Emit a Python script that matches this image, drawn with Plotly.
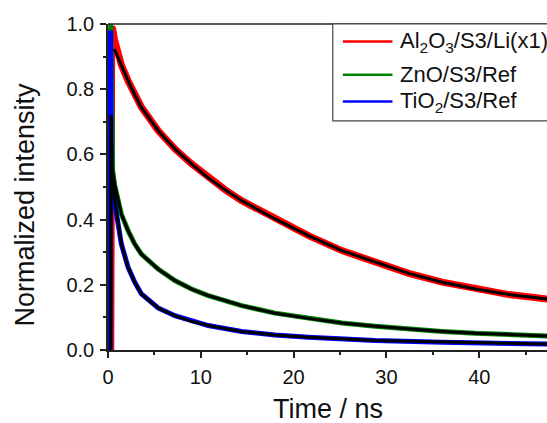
import plotly.graph_objects as go

# ---- data ----
red_t = [0.0, 0.3, 0.4, 0.5, 0.72, 1.44, 2.16, 2.88, 3.6, 5.4, 7.2, 9.0, 10.8, 12.6, 14.4, 18.0, 21.6, 25.2, 28.8, 32.4, 36.0, 39.6, 43.2, 47.4]
red_y = [0.0, 0.0, 0.99, 0.985, 0.95, 0.875, 0.826, 0.783, 0.745, 0.673, 0.617, 0.571, 0.528, 0.492, 0.458, 0.402, 0.351, 0.305, 0.269, 0.235, 0.208, 0.187, 0.170, 0.156]

green_t = [0.0, 0.25, 0.3, 0.36, 0.5, 0.72, 1.44, 2.16, 2.88, 3.6, 5.4, 7.2, 9.0, 10.8, 14.4, 18.0, 21.6, 25.2, 28.8, 32.4, 36.0, 39.6, 43.2, 47.4]
green_y = [0.0, 0.0, 1.0, 0.62, 0.55, 0.505, 0.417, 0.366, 0.325, 0.294, 0.248, 0.213, 0.187, 0.167, 0.136, 0.113, 0.097, 0.083, 0.073, 0.064, 0.057, 0.051, 0.047, 0.043]

blue_t = [0.0, 0.22, 0.28, 0.34, 0.5, 0.72, 1.44, 2.16, 2.88, 3.6, 5.4, 7.2, 9.0, 10.8, 14.4, 18.0, 21.6, 28.8, 36.0, 47.4]
blue_y = [0.0, 0.0, 0.98, 0.55, 0.49, 0.45, 0.325, 0.254, 0.208, 0.172, 0.129, 0.105, 0.088, 0.075, 0.057, 0.046, 0.039, 0.029, 0.024, 0.018]

red_fit_t = [0.68, 1.44, 2.16, 2.88, 3.6, 5.4, 7.2, 9.0, 10.8, 12.6, 14.4, 18.0, 21.6, 25.2, 28.8, 32.4, 36.0, 39.6, 43.2, 47.4]
red_fit_y = [0.923, 0.872, 0.826, 0.783, 0.744, 0.673, 0.617, 0.571, 0.528, 0.492, 0.458, 0.402, 0.351, 0.305, 0.269, 0.235, 0.208, 0.187, 0.170, 0.156]

green_fit_t = [0.28, 0.33, 0.45, 0.72, 1.44, 2.16, 2.88, 3.6, 5.4, 7.2, 9.0, 10.8, 14.4, 18.0, 21.6, 25.2, 28.8, 32.4, 36.0, 39.6, 43.2, 47.4]
green_fit_y = [0.0, 0.72, 0.56, 0.509, 0.417, 0.366, 0.325, 0.294, 0.248, 0.213, 0.187, 0.167, 0.136, 0.113, 0.097, 0.083, 0.073, 0.064, 0.057, 0.051, 0.047, 0.043]

blue_fit_t = [0.28, 0.33, 0.42, 0.72, 1.44, 2.16, 2.88, 3.6, 5.4, 7.2, 9.0, 10.8, 14.4, 18.0, 21.6, 28.8, 36.0, 47.4]
blue_fit_y = [0.0, 0.72, 0.52, 0.458, 0.325, 0.254, 0.208, 0.172, 0.129, 0.105, 0.088, 0.075, 0.057, 0.046, 0.039, 0.029, 0.024, 0.018]

series_names = ["Al<sub>2</sub>O<sub>3</sub>/S3/Li(x1)", "ZnO/S3/Ref", "TiO<sub>2</sub>/S3/Ref"]
series_colors = ["#ff0000", "#008000", "#0000ff"]

x_tickvals = [0, 10, 20, 30, 40]
y_tickvals = [0.0, 0.2, 0.4, 0.6, 0.8, 1.0]

FONT = "Arial, 'Liberation Sans', sans-serif"

fig = go.Figure()
for t, y, c, w in [(red_t, red_y, series_colors[0], 7),
                   (green_t, green_y, series_colors[1], 5),
                   (blue_t, blue_y, series_colors[2], 5)]:
    fig.add_trace(go.Scatter(x=t, y=y, mode="lines", line=dict(color=c, width=w), showlegend=False))
for t, y in [(red_fit_t, red_fit_y), (green_fit_t, green_fit_y), (blue_fit_t, blue_fit_y)]:
    fig.add_trace(go.Scatter(x=t, y=y, mode="lines", line=dict(color="black", width=3), showlegend=False))

axis_common = dict(showline=True, linecolor="#222", linewidth=1.5, ticks="outside", ticklen=6,
                   tickwidth=1.5, tickcolor="#222", showgrid=False, zeroline=False,
                   tickfont=dict(family=FONT, size=20, color="#111"))

fig.update_xaxes(range=[0, 47.3], tickvals=x_tickvals,
                 minor=dict(ticks="outside", dtick=5, tick0=0, ticklen=3, tickwidth=1.5, tickcolor="#222"),
                 ticklabelstandoff=2, **axis_common)
fig.update_yaxes(range=[0, 1], tickvals=y_tickvals, tickformat=".1f",
                 minor=dict(ticks="outside", dtick=0.1, tick0=0, ticklen=3, tickwidth=1.5, tickcolor="#222"),
                 ticklabelstandoff=2, **axis_common)

shapes = [
    # top frame line
    dict(type="line", xref="paper", yref="paper", x0=0, x1=1.01, y0=1, y1=1,
         line=dict(color="#222", width=1.5)),
    # legend box
    dict(type="rect", xref="paper", yref="paper", x0=0.512, x1=1.05, y0=0.703, y1=1,
         line=dict(color="#444", width=1.2), fillcolor="white", layer="above"),
]
legend_y = [0.946, 0.844, 0.762]
annotations = []
for name, col, ly in zip(series_names, series_colors, legend_y):
    shapes.append(dict(type="line", xref="paper", yref="paper", x0=0.535, x1=0.648, y0=ly, y1=ly,
                       line=dict(color=col, width=2.5), layer="above"))
    annotations.append(dict(text=name, xref="paper", yref="paper", x=0.6617, y=ly, xanchor="left",
                            yanchor="middle", showarrow=False,
                            font=dict(family=FONT, size=22, color="#111")))

annotations.append(dict(text="Normalized intensity", xref="paper", yref="paper", x=-0.19, y=0.445,
                        textangle=-90, showarrow=False, xanchor="center", yanchor="middle",
                        font=dict(family=FONT, size=27, color="#111")))
annotations.append(dict(text="Time / ns", xref="paper", yref="paper", x=0.5, y=-0.18,
                        showarrow=False, xanchor="center", yanchor="middle",
                        font=dict(family=FONT, size=27, color="#111")))

fig.update_layout(width=547, height=423, margin=dict(l=108, r=0, t=24, b=73),
                  paper_bgcolor="white", plot_bgcolor="white",
                  shapes=shapes, annotations=annotations, showlegend=False)

fig.write_html("out.html", config={"displayModeBar": False},
               post_script="document.body.style.margin='0';document.body.style.overflow='hidden';")
